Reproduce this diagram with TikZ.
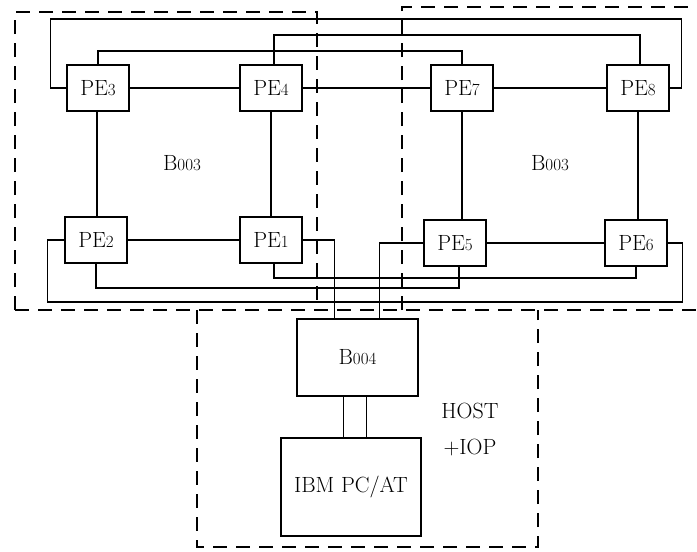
\documentclass[tikz,border=0pt]{standalone}
\usetikzlibrary{calc}
\newcommand\smalldig[1]{{\fontsize{17}{20}\selectfont #1}}
\begin{document}
\begin{tikzpicture}[x=1pt,y=-1pt,
  pebox/.style={draw, line width=1.6pt, minimum width=62pt, minimum height=46pt, inner sep=0pt, font=\fontsize{22}{26}\selectfont},
  bigbox/.style={draw, line width=1.6pt, inner sep=0pt, font=\fontsize{22}{26}\selectfont},
  wire/.style={line width=1.2pt},
  dashbox/.style={line width=1.9pt, dash pattern=on 14pt off 9pt},
  lbl/.style={font=\fontsize{22}{26}\selectfont, inner sep=0pt}]
\fill[white] (0,0) rectangle (697,552);
\useasboundingbox (0,0) rectangle (697,552);

% dashed groups
\draw[dashbox] (15,310) -- (15,12) -- (317,12) -- (317,310);
\draw[dashbox] (402,310) -- (402,7) -- (697,7);
\draw[dashbox] (15,310) -- (697,310);
\draw[dashbox] (197,310) -- (197,547) -- (538,547) -- (538,310);

% PE nodes
\node[pebox] (PE3) at (98,88) {PE\smalldig{3}};
\node[pebox] (PE4) at (271,88) {PE\smalldig{4}};
\node[pebox] (PE7) at (462,88) {PE\smalldig{7}};
\node[pebox] (PE8) at (638,88) {PE\smalldig{8}};
\node[pebox] (PE2) at (96,240) {PE\smalldig{2}};
\node[pebox] (PE1) at (271,240) {PE\smalldig{1}};
\node[pebox] (PE5) at (455,243) {PE\smalldig{5}};
\node[pebox] (PE6) at (636,243) {PE\smalldig{6}};

\node[lbl] (g1) at (182,163) {B\smalldig{003}};
\node[lbl] (g2) at (550,163) {B\smalldig{003}};

% host
\node[bigbox, minimum width=121pt, minimum height=77pt] (B004) at (357.5,357.5) {B\smalldig{004}};
\node[bigbox, minimum width=140pt, minimum height=98pt] (IBM) at (351,487) {IBM PC/AT};
\node[lbl] (host) at (470,411) {HOST};
\node[lbl] (iop) at (470,448) {+IOP};

% rings inside groups
\draw[wire] (PE3.east) -- (PE4.west);
\draw[wire] (PE4.east) -- (PE7.west);
\draw[wire] (PE7.east) -- (PE8.west);
\draw[wire] (PE2.east) -- (PE1.west);
\draw[wire] (PE5.east) -- (PE6.west);
\draw[wire] ($(PE2.north)+(1,0)$) -- ($(PE2.north |- PE3.south)+(1,0)$);
\draw[wire] (PE4.south) -- (PE4.south |- PE1.north);
\draw[wire] (PE7.south) -- (PE7.south |- PE5.north);
\draw[wire] (PE8.south) -- (PE8.south |- PE6.north);

% long links on top
\coordinate (ya) at (0,19);
\coordinate (yb) at (0,35);
\coordinate (yc) at (0,51);
\draw[wire] (PE3.west) -- ++(-16,0) |- ($(PE8.east |- ya)+(12,0)$) |- (PE8.east);
\draw[wire] ($(PE4.north)+(3,0)$) |- ($(PE8.north |- yb)+(2,0)$) -- ($(PE8.north)+(2,0)$);
\draw[wire] (PE3.north) |- (PE7.north |- yc) -- (PE7.north);

% long links at bottom
\coordinate (yd) at (0,278);
\coordinate (ye) at (0,288);
\coordinate (yf) at (0,302);
\draw[wire] ($(PE1.south)+(3,0)$) |- (PE6.south |- yd) -- (PE6.south);
\draw[wire] (PE2.south) |- ($(PE5.south |- ye)+(4,0)$) -- ($(PE5.south)+(4,0)$);
\draw[wire] (PE2.west) -- ++(-17,0) |- ($(PE6.east |- yf)+(15,0)$) |- (PE6.east);

% links to host
\draw[wire] (PE1.east) -| ($(B004.north west)+(38,0)$);
\draw[wire] (PE5.west) -| ($(B004.north east)+(-39,0)$);
\coordinate (l1) at ($(B004.south)+(-14,0)$);
\coordinate (l2) at ($(B004.south)+(9,0)$);
\draw[wire] (l1) -- (l1 |- IBM.north);
\draw[wire] (l2) -- (l2 |- IBM.north);
\end{tikzpicture}
\end{document}
